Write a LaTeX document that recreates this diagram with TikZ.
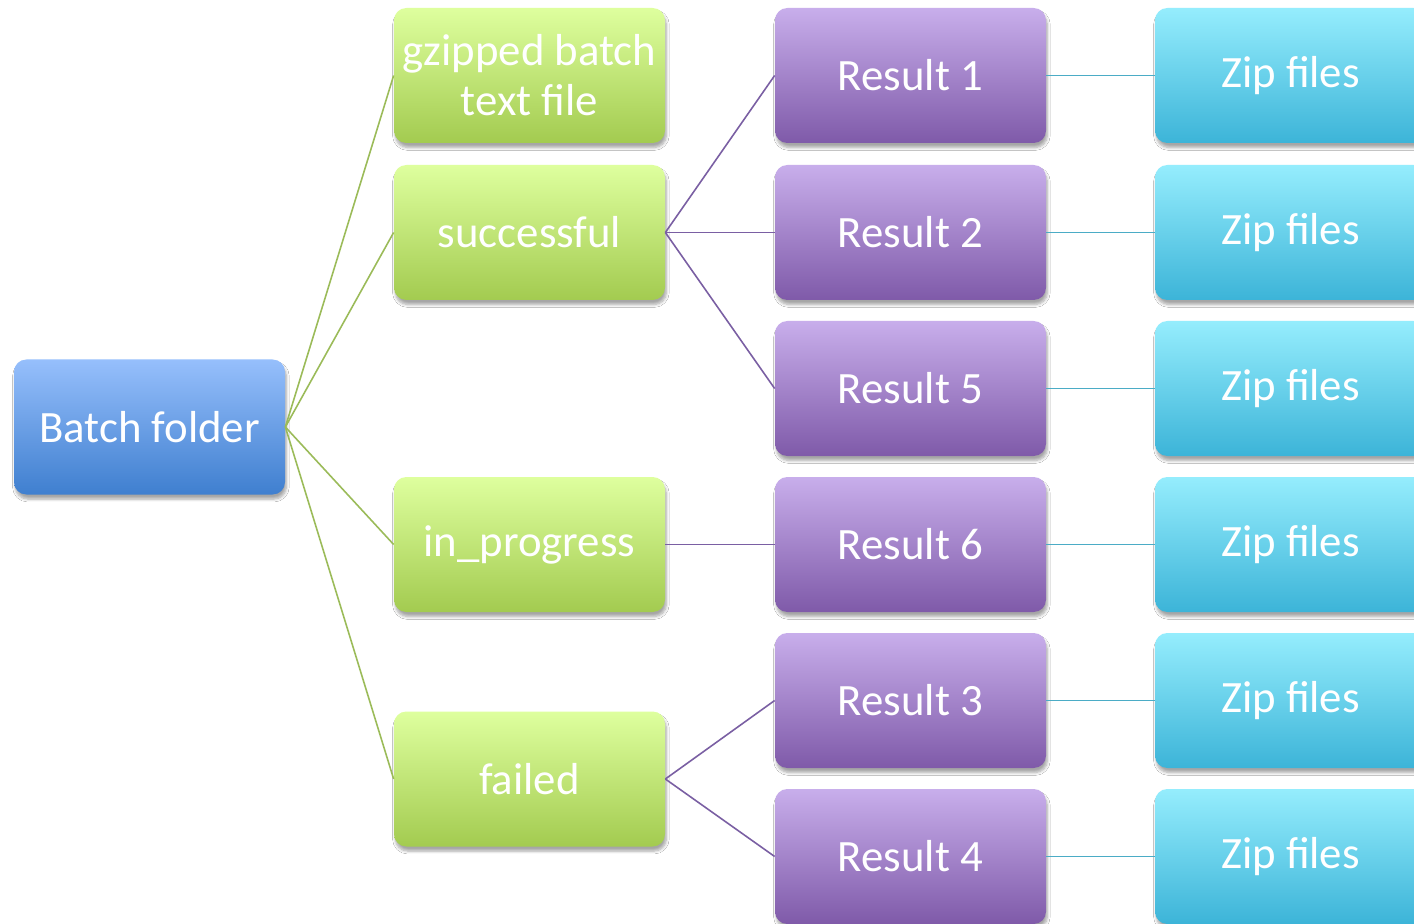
\documentclass[tikz,border=0pt]{standalone}
\usepackage{fontspec}
\setmainfont{Carlito}
\usepackage{xcolor}
\usepackage{tikz}
\usetikzlibrary{shadows.blur}
\definecolor{foldertop}{HTML}{96BFFC}
\definecolor{folderbot}{HTML}{3F7FCF}
\definecolor{greentop}{HTML}{DEFF9E}
\definecolor{greenbot}{HTML}{A3CB50}
\definecolor{greenline}{HTML}{9BBB59}
\definecolor{purpletop}{HTML}{C8AEEB}
\definecolor{purplebot}{HTML}{7F5AA9}
\definecolor{purpleline}{HTML}{7A5FA3}
\definecolor{cyantop}{HTML}{95EDFD}
\definecolor{cyanbot}{HTML}{3CB4D8}
\definecolor{cyanline}{HTML}{4BACC6}

\tikzset{
  box/.style={
    minimum width=5.42cm,
    minimum height=2.7cm,
    inner sep=2pt,
    rounded corners=7pt,
    align=center,
    text=white,
    font=\fontsize{25.5}{28.5}\selectfont,
    blur shadow={shadow xshift=0.8pt,shadow yshift=-2.6pt,shadow opacity=35,
      shadow blur radius=1.6pt,shadow blur steps=6}
  },
  folderbox/.style={box,top color=foldertop,bottom color=folderbot},
  dirbox/.style={box,top color=greentop,bottom color=greenbot},
  resultbox/.style={box,top color=purpletop,bottom color=purplebot},
  zipbox/.style={box,top color=cyantop,bottom color=cyanbot},
  link/.style={line width=0.9pt}
}

\begin{document}
\begin{tikzpicture}
  \clip (0,0) rectangle (28.28,-18.48);
  \fill[white] (0,0) rectangle (28.28,-18.48);

  % root
  \node[folderbox] (batch) at (2.99,-8.54) {Batch folder};

  % folders inside the batch
  \node[dirbox] (gzip) at (10.59,-1.51) {gzipped batch\\text file};
  \node[dirbox] (succ) at (10.59,-4.65) {successful};
  \node[dirbox] (prog) at (10.59,-10.89) {in\_progress};
  \node[dirbox] (fail) at (10.59,-15.58) {failed};

  % results and their zip files
  \foreach \name/\y in {1/-1.51,2/-4.65,5/-7.77,6/-10.89,3/-14.01,4/-17.13}{
    \node[resultbox] (res\name) at (18.21,\y) {Result \name};
    \node[zipbox] (zip\name) at (25.81,\y) {Zip files};
    \draw[link,cyanline] (res\name.east) -- (zip\name.west);
  }

  \foreach \dir in {gzip,succ,prog,fail}
    \draw[link,greenline] (batch.east) -- (\dir.west);

  \foreach \res in {1,2,5}
    \draw[link,purpleline] (succ.east) -- (res\res.west);
  \draw[link,purpleline] (prog.east) -- (res6.west);
  \draw[link,purpleline] (fail.east) -- (res3.west);
  \draw[link,purpleline] (fail.east) -- (res4.west);
\end{tikzpicture}
\end{document}
